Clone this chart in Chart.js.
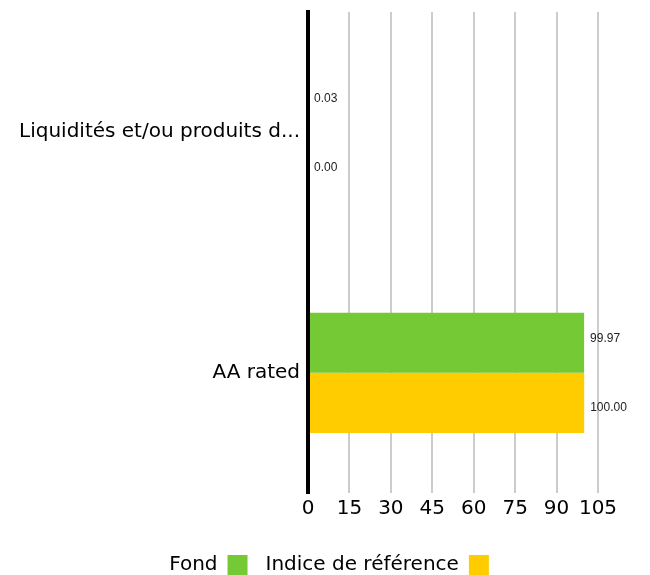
<!DOCTYPE html>
<html>
<head>
<meta charset="utf-8">
<script src="https://cdn.jsdelivr.net/npm/chart.js@4"></script>
<style>
  html, body { margin: 0; padding: 0; background: #fff; }
  #wrap { width: 650px; height: 575px; }
</style>
</head>
<body>
<div id="wrap"><canvas id="chart1"></canvas></div>
<script>
var categories = ['Liquidités et/ou produits dérivés', 'AA rated'];
var fondValues = [0.03, 99.97];
var indiceValues = [0.00, 100.00];
var tickValues = [0, 15, 30, 45, 60, 75, 90, 105];

var FONT = '"DejaVu Sans", "Noto Sans", sans-serif';

/* value labels at the end of each bar */
var valueLabels = {
  id: 'valueLabels',
  afterDatasetsDraw: function(chart) {
    var ctx = chart.ctx;
    ctx.save();
    ctx.font = '12px "Liberation Sans", Arial, sans-serif';
    ctx.fillStyle = '#222';
    ctx.textAlign = 'left';
    ctx.textBaseline = 'middle';
    chart.data.datasets.forEach(function(ds, i) {
      var dy = i === 0 ? -4 : 5;
      chart.getDatasetMeta(i).data.forEach(function(bar, j) {
        ctx.fillText(ds.data[j].toFixed(2), bar.x + 6, bar.y + dy);
      });
    });
    ctx.restore();
  }
};

/* centre the legend on the page rather than the padded layout */
var legendShift = {
  id: 'legendShift',
  afterLayout: function(chart) {
    var lg = chart.legend;
    lg.left += 26;
    lg.right += 26;
    lg.top += 12;
    lg.bottom += 12;
  }
};

var ctx = document.getElementById('chart1');
var chart1 = new Chart(ctx, {
  type: 'bar',
  data: {
    labels: categories,
    datasets: [{
      label: 'Fond',
      data: fondValues,
      backgroundColor: '#74C934',
      categoryPercentage: 0.5,
      barPercentage: 1.0
    }, {
      label: 'Indice de référence',
      data: indiceValues,
      backgroundColor: '#FFCC00',
      categoryPercentage: 0.5,
      barPercentage: 1.0
    }]
  },
  options: {
    indexAxis: 'y',
    responsive: true,
    maintainAspectRatio: false,
    animation: false,
    layout: { padding: { left: 8, right: 52, top: 12, bottom: 2 } },
    scales: {
      x: {
        min: 0,
        max: 105,
        afterBuildTicks: function(scale) {
          scale.ticks = tickValues.map(function(v) { return { value: v }; });
        },
        grid: { color: '#cccccc', lineWidth: 2, drawTicks: false },
        border: { display: false },
        ticks: {
          color: '#000',
          padding: 4,
          maxRotation: 0,
          autoSkip: false,
          font: { family: FONT, size: 20 }
        }
      },
      y: {
        grid: { display: false, drawTicks: false },
        border: { color: '#000', width: 4, z: 1 },
        afterFit: function(scale) {
          scale.width = 300;
          scale.paddingTop = 0;
          scale.paddingBottom = 0;
        },
        ticks: {
          color: '#000',
          padding: 8,
          font: { family: FONT, size: 20 },
          callback: function(value) {
            var s = this.getLabelForValue(value);
            return s.length > 28 ? s.slice(0, 27) + '...' : s;
          }
        }
      }
    },
    plugins: {
      tooltip: { enabled: false },
      legend: {
        position: 'bottom',
        rtl: true,
        reverse: true,
        textDirection: 'ltr',
        labels: {
          color: '#000',
          boxWidth: 20,
          boxHeight: 20,
          padding: 18,
          font: { family: FONT, size: 20 }
        }
      }
    }
  },
  plugins: [valueLabels, legendShift]
});
</script>
</body>
</html>
